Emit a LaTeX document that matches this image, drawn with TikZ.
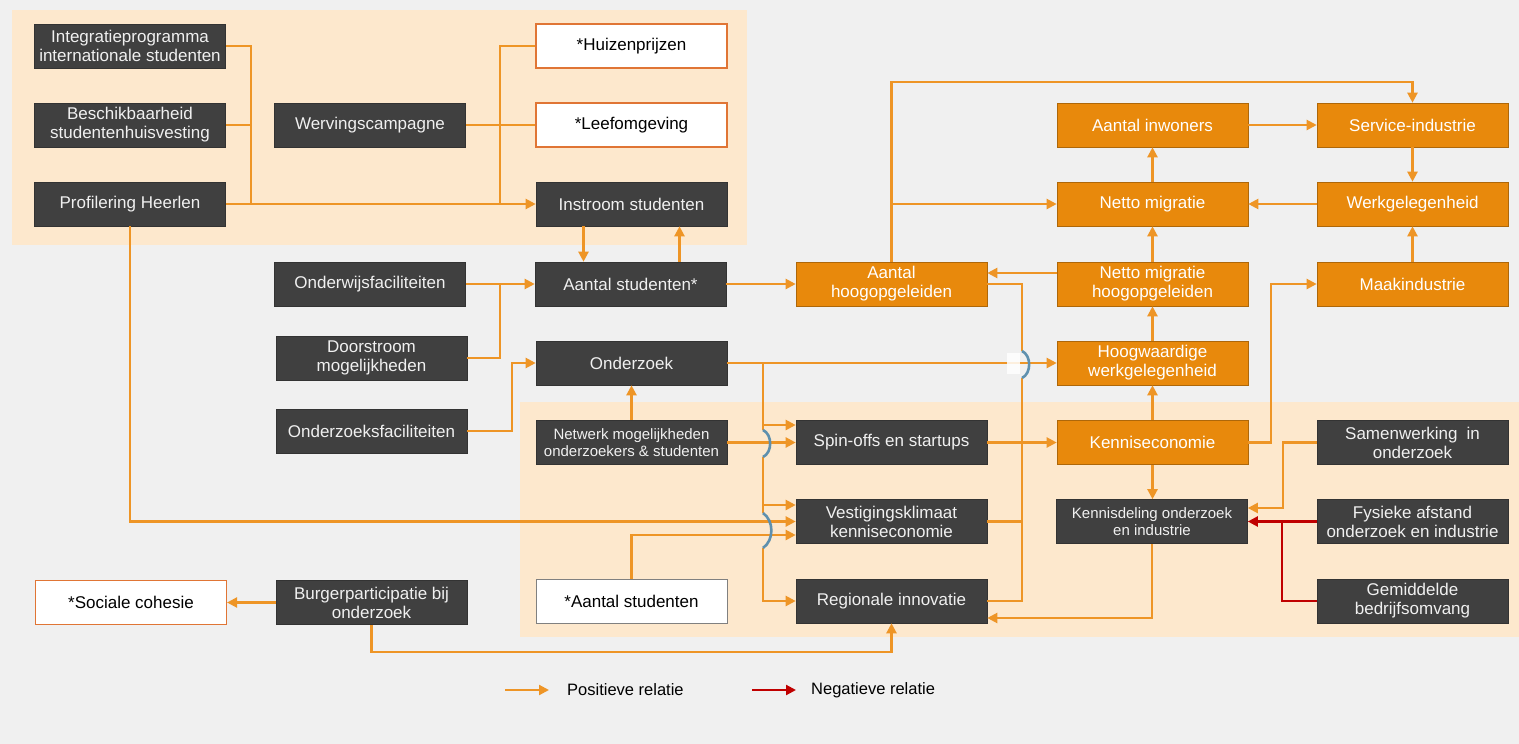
\documentclass[tikz,border=0pt]{standalone}
\usepackage{fontspec}
\setmainfont{Liberation Sans}
\usetikzlibrary{arrows.meta,calc}
\definecolor{bg}{HTML}{F0F0F0}
\definecolor{panel}{HTML}{FDE8CD}
\definecolor{darkbox}{HTML}{404040}
\definecolor{orangebox}{HTML}{E8890C}
\definecolor{link}{HTML}{EE9526}
\definecolor{neg}{HTML}{C00000}
\definecolor{hopc}{HTML}{5E90AE}
\definecolor{outline}{HTML}{E07535}

\begin{document}
\begin{tikzpicture}[x=1pt,y=-1pt,
  base/.style={minimum width=191pt,minimum height=44pt,inner sep=0pt,align=center,
               font=\fontsize{17}{19}\selectfont},
  dbox/.style={base,fill=darkbox,draw=black!80,line width=0.6pt,text=white!94!black},
  obox/.style={base,fill=orangebox,draw=orangebox!75!black,line width=0.6pt,text=white},
  wbox/.style={base,fill=white,draw=outline,line width=1.1pt,text=black},
  link/.style={draw=link,line width=2.2pt},
  arr/.style={link,-{Triangle[length=10pt,width=10pt]}},
  negline/.style={draw=neg,line width=2.2pt},
  negarr/.style={negline,-{Triangle[length=10pt,width=10pt]}},
  hop/.style={draw=hopc,line width=2.6pt},
  legend/.style={anchor=west,inner sep=0pt,font=\fontsize{16.5}{19}\selectfont},
]
% canvas and shaded panels
\path[use as bounding box,fill=bg] (0,0) rectangle (1519,744);
\fill[panel] (12,10) rectangle (747,245);
\fill[panel] (520,402) rectangle (1519,637);

% ---- boxes ----
\node[dbox] (integ) at (130,46) {Integratieprogramma\\internationale studenten};
\node[dbox] (besch) at (130,125) {Beschikbaarheid\\studentenhuisvesting};
\node[dbox] (prof) at (130,204) {Profilering Heerlen};
\node[dbox] (werv) at (370,125) {Wervingscampagne};
\node[wbox] (huiz) at (631.5,46) {*Huizenprijzen};
\node[wbox] (leef) at (631.5,125) {*Leefomgeving};
\node[dbox] (instr) at (631.5,204) {Instroom studenten};
\node[dbox] (ondw) at (370,284) {Onderwijsfaciliteiten};
\node[dbox] (door) at (371.5,358) {Doorstroom\\mogelijkheden};
\node[dbox] (ozf) at (371.5,431) {Onderzoeksfaciliteiten};
\node[dbox] (stud) at (630.5,284) {Aantal studenten*};
\node[dbox] (ozk) at (631.5,363) {Onderzoek};
\node[dbox,font=\fontsize{15}{17}\selectfont] (netw) at (631.5,442.5) {Netwerk mogelijkheden\\onderzoekers \& studenten};
\node[obox] (hoog) at (891.5,284) {Aantal\\hoogopgeleiden};
\node[dbox] (spin) at (891.5,442.5) {Spin-offs en startups};
\node[dbox] (vest) at (891.5,521.5) {Vestigingsklimaat\\kenniseconomie};
\node[dbox] (reg) at (891.5,601) {Regionale innovatie};
\node[wbox,draw=gray,line width=0.9pt] (stud2) at (631.5,601) {*Aantal studenten};
\node[obox] (inw) at (1152.5,125) {Aantal inwoners};
\node[obox] (serv) at (1412.5,125) {Service-industrie};
\node[obox] (netm) at (1152.5,204) {Netto migratie};
\node[obox] (werk) at (1412.5,204) {Werkgelegenheid};
\node[obox] (nmh) at (1152.5,284) {Netto migratie\\hoogopgeleiden};
\node[obox] (maak) at (1412.5,284) {Maakindustrie};
\node[obox] (hw) at (1152.5,363) {Hoogwaardige\\werkgelegenheid};
\node[obox] (ke) at (1152.5,442.5) {Kenniseconomie};
\node[dbox,font=\fontsize{15}{17}\selectfont] (kd) at (1152,521.5) {Kennisdeling onderzoek\\en industrie};
\node[dbox] (samw) at (1412.5,442.5) {Samenwerking\hspace{0.25em} in\\onderzoek};
\node[dbox] (fys) at (1412.5,521.5) {Fysieke afstand\\onderzoek en industrie};
\node[dbox] (gem) at (1412.5,601) {Gemiddelde\\bedrijfsomvang};
\node[wbox] (soc) at (131,602.5) {*Sociale cohesie};
\node[dbox] (burg) at (371.5,602.5) {Burgerparticipatie bij\\onderzoek};

% ---- student intake ----
\coordinate (j1) at (251,204);
\draw[link] (integ.east) -| (j1);
\draw[link] (besch.east) -| (j1);
\draw[arr] (prof.east) -- (instr.west);
\coordinate (j2) at (500,204);
\draw[link] (huiz.west) -| (j2);
\draw[link] (werv.east) -- (leef.west);
\coordinate (in1) at ([xshift=-48pt]instr.south);
\coordinate (st1) at ([xshift=49pt]stud.north);
\draw[arr] (in1) -- (in1 |- stud.north);
\draw[arr] (st1) -- (st1 |- instr.south);

% ---- education and research inputs ----
\draw[arr] (ondw.east) -- (stud.west);
\coordinate (j3) at (500,284);
\draw[link] (door.east) -| (j3);
\draw[arr] (ozf.east) -- ++(45,0) |- (ozk.west);
\draw[arr] (netw.north) -- (ozk.south);
\draw[arr] (stud.east) -- (hoog.west);

% ---- research bus with line hops ----
\coordinate (b0) at (763,363);
\coordinate (b1) at (763,430);
\coordinate (b2) at (763,457);
\coordinate (b3) at (763,513);
\coordinate (b4) at (763,548);
\draw[link] (b0) -- (b1);
\draw[link] (b2) -- (b3);
\draw[arr] (b4) |- (reg.west);
\coordinate (s1) at (763,425);
\coordinate (s2) at (763,505);
\draw[arr] (s1) -- (s1 -| spin.west);
\draw[arr] (s2) -- (s2 -| vest.west);
\draw[arr] (netw.east) -- (netw.east -| spin.west);
\draw[arr] (prof.south) |- (vest.west);
\draw[arr] (stud2.north) |- ($(vest.west)+(0,13.5)$);
\draw[hop] (b1) to[bend left=65] (b2);
\draw[hop] (b3) to[bend left=55] (b4);

% ---- research to high-value jobs, feedback bus ----
\draw[arr] (ozk.east) -- (hw.west);
\fill[white,opacity=0.85] (1007,353) rectangle (1020,374);
\coordinate (c1) at (1022,351);
\coordinate (c2) at (1022,378);
\draw[link] (hoog.east) -| (c1);
\draw[link] (c2) |- (reg.east);
\draw[link] (vest.east) -- (vest.east -| c2);
\draw[hop] (c1) to[bend left=65] (c2);

% ---- population and employment loop ----
\draw[arr] (hoog.north) -- ++(0,-180) -| (serv.north);
\draw[arr] (hoog.north |- netm.west) -- (netm.west);
\coordinate (n1) at ([yshift=11pt]nmh.west);
\draw[arr] (n1) -- (n1 -| hoog.east);
\draw[arr] (nmh.north) -- (netm.south);
\draw[arr] (netm.north) -- (inw.south);
\draw[arr] (inw.east) -- (serv.west);
\draw[arr] (serv.south) -- (werk.north);
\draw[arr] (werk.west) -- (netm.east);
\draw[arr] (maak.north) -- (werk.south);
\draw[arr] (ke.east) -- ++(23,0) |- (maak.west);
\draw[arr] (hw.north) -- (nmh.south);
\draw[arr] (ke.north) -- (hw.south);
\draw[arr] (spin.east) -- (ke.west);

% ---- knowledge sharing ----
\draw[arr] (ke.south) -- (ke.south |- kd.north);
\draw[arr] (samw.west) -- ++(-34,0) |- ($(kd.east)+(0,-13.5)$);
\draw[negarr] (fys.west) -- (kd.east);
\draw[negline] (gem.west) -| ($(kd.east)+(34,0)$);
\draw[arr] (kd.south) |- ($(reg.east)+(0,17)$);

% ---- citizen participation ----
\draw[arr] (burg.west) -- (soc.east);
\draw[arr] (burg.south) -- ++(0,27) -| (reg.south);

% ---- legend ----
\node[legend] (lpos) at (567,690) {Positieve relatie};
\node[legend] (lneg) at (811,690) {Negatieve relatie};
\coordinate (lp1) at (505,690);
\coordinate (lp2) at (549,690);
\coordinate (ln1) at (752,690);
\coordinate (ln2) at (796,690);
\draw[arr] (lp1) -- (lp2);
\draw[negarr] (ln1) -- (ln2);
\end{tikzpicture}
\end{document}
